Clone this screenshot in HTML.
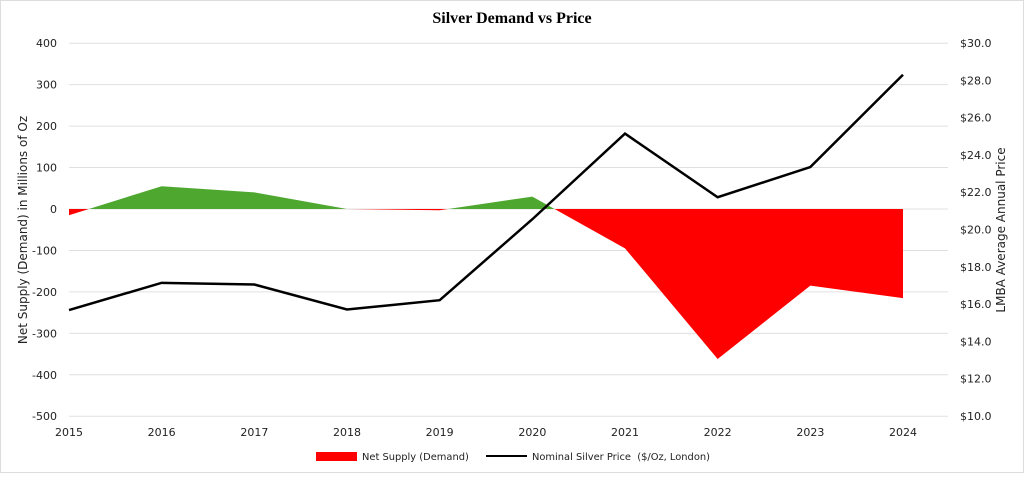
<!DOCTYPE html>
<html><head><style>
body{margin:0;background:#fff;width:1024px;height:473px;overflow:hidden;font-family:"DejaVu Sans","Liberation Sans",sans-serif}
svg text{font-family:"DejaVu Sans","Liberation Sans",sans-serif;font-size:11px;fill:#222}
</style></head><body>
<svg width="1024" height="473">
<rect x="0.5" y="0.5" width="1023" height="472" fill="#fff" stroke="#ddd"/>
<text x="512" y="23" text-anchor="middle" style="font-family:'Liberation Serif',serif;font-size:16px;font-weight:bold;fill:#000">Silver Demand vs Price</text>
<g id="grid"></g><g id="area"></g><g id="line"></g><g id="axes"></g>
<text transform="translate(27,230) rotate(-90)" text-anchor="middle" style="font-size:12px">Net Supply (Demand) in Millions of Oz</text>
<text transform="translate(1005,230) rotate(-90)" text-anchor="middle" style="font-size:12px">LMBA Average Annual Price</text>
<rect x="316" y="452" width="41" height="9" fill="#ff0000"/>
<text x="362" y="460" style="font-size:9.9px">Net Supply (Demand)</text>
<line x1="486" y1="456" x2="527" y2="456" stroke="#000" stroke-width="2"/>
<text x="532" y="460" style="font-size:9.9px" xml:space="preserve">Nominal Silver Price  ($/Oz, London)</text>
</svg>
<script>
const years=["2015","2016","2017","2018","2019","2020","2021","2022","2023","2024"];
const supply=[-15,55,40,0,-3,30,-95,-362,-185,-215];
const price=[15.68,17.14,17.05,15.71,16.21,20.55,25.14,21.73,23.35,28.3];
const leftTicks=[400,300,200,100,0,-100,-200,-300,-400,-500];
const rightTicks=[30,28,26,24,22,20,18,16,14,12,10];
const NS="http://www.w3.org/2000/svg";
const X0=69,X1=948,XS=(903-69)/9;
const x=i=>X0+i*XS;
const yL=v=>209-v*0.4144;
const yR=v=>416-(v-10)*18.65;
function mk(t,a,p){const e=document.createElementNS(NS,t);for(const k in a)e.setAttribute(k,a[k]);document.getElementById(p).appendChild(e);return e;}
leftTicks.forEach(v=>{
 const g=mk('line',{x1:X0,x2:X1,y1:yL(v),y2:yL(v),stroke:'#e0e0e0'},'grid');
 
 
 const t=mk('text',{x:57,y:yL(v)+4,'text-anchor':'end'},'axes');t.textContent=v;
 
 
});
rightTicks.forEach(v=>{
 const t=mk('text',{x:960,y:yR(v)+4},'axes');t.textContent='$'+v.toFixed(1);
 
 
});
years.forEach((yr,i)=>{
 const t=mk('text',{x:x(i),y:436,'text-anchor':'middle'},'axes');t.textContent=yr;
 
 
});
const y0=yL(0);
const pts=`${x(0)},${y0} `+supply.map((v,i)=>x(i)+','+yL(v)).join(' ')+` ${x(supply.length-1)},${y0}`;
const defs=mk('defs',{},'area');
const c1=document.createElementNS(NS,'clipPath');c1.id='above';defs.appendChild(c1);
const r1=document.createElementNS(NS,'rect');r1.setAttribute('x',0);r1.setAttribute('y',0);r1.setAttribute('width',1024);r1.setAttribute('height',y0);c1.appendChild(r1);
const c2=document.createElementNS(NS,'clipPath');c2.id='below';defs.appendChild(c2);
const r2=document.createElementNS(NS,'rect');r2.setAttribute('x',0);r2.setAttribute('y',y0);r2.setAttribute('width',1024);r2.setAttribute('height',473);c2.appendChild(r2);
const pg=mk('polygon',{points:pts,fill:'#4ea72e','clip-path':'url(#above)'},'area');


const pr=mk('polygon',{points:pts,fill:'#ff0000','clip-path':'url(#below)'},'area');


const pl=mk('polyline',{points:price.map((v,i)=>x(i)+','+yR(v)).join(' '),fill:'none',stroke:'#000','stroke-width':2.5},'line');


</script>
</body></html>
